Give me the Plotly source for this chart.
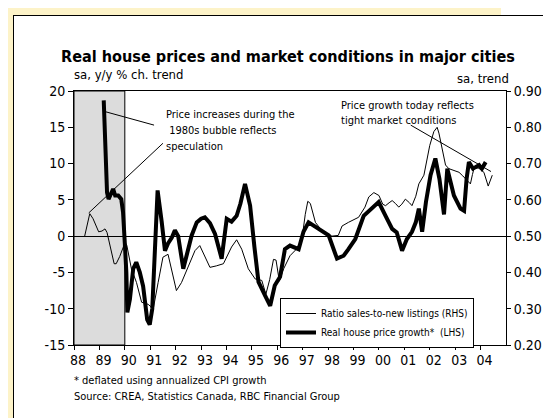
import plotly.graph_objects as go

# ---------------- data ----------------
ratio_dates = [1988.42, 1988.55, 1988.62, 1988.75, 1988.90, 1988.97, 1989.10, 1989.22, 1989.30,
               1989.45, 1989.58, 1989.66, 1989.80, 1989.93, 1990.00, 1990.08, 1990.26, 1990.46,
               1990.66, 1990.92, 1991.12, 1991.31, 1991.50, 1991.70, 1991.90, 1992.03, 1992.23,
               1992.50, 1992.76, 1992.95, 1993.15, 1993.35, 1993.60, 1993.88, 1994.20, 1994.40,
               1994.60, 1994.86, 1995.13, 1995.39, 1995.55, 1995.70, 1995.85, 1995.95, 1996.08,
               1996.25, 1996.50, 1996.75, 1996.97, 1997.10, 1997.20, 1997.30, 1997.50, 1997.70,
               1997.90, 1998.15, 1998.40, 1998.55, 1998.80, 1999.00, 1999.20, 1999.45, 1999.60,
               1999.80, 2000.00, 2000.15, 2000.26, 2000.40, 2000.52, 2000.65, 2000.78, 2000.90,
               2001.04, 2001.20, 2001.30, 2001.45, 2001.57, 2001.77, 2001.90, 2002.00, 2002.16,
               2002.29, 2002.36, 2002.45, 2002.62, 2002.75, 2002.95, 2003.15, 2003.30, 2003.41,
               2003.60, 2003.68, 2003.74, 2003.90, 2004.00, 2004.13, 2004.30, 2004.46]
ratio_values = [0.500, 0.540, 0.562, 0.548, 0.520, 0.512, 0.514, 0.520, 0.510,
                0.460, 0.424, 0.424, 0.444, 0.468, 0.484, 0.474, 0.410, 0.372,
                0.318, 0.312, 0.300, 0.372, 0.442, 0.450, 0.392, 0.350, 0.372,
                0.418, 0.460, 0.474, 0.446, 0.414, 0.418, 0.424, 0.470, 0.490,
                0.464, 0.410, 0.382, 0.378, 0.340, 0.380, 0.436, 0.434, 0.376,
                0.410, 0.446, 0.464, 0.492, 0.560, 0.596, 0.590, 0.538, 0.520,
                0.510, 0.500, 0.502, 0.528, 0.538, 0.544, 0.552, 0.580, 0.608,
                0.620, 0.612, 0.588, 0.584, 0.592, 0.598, 0.590, 0.580, 0.588,
                0.602, 0.592, 0.584, 0.610, 0.644, 0.668, 0.710, 0.750, 0.788,
                0.800, 0.784, 0.750, 0.696, 0.686, 0.680, 0.676, 0.666, 0.658,
                0.644, 0.670, 0.686, 0.688, 0.684, 0.676, 0.638, 0.668]

price_dates = [1989.17, 1989.20, 1989.25, 1989.30, 1989.36, 1989.45, 1989.54, 1989.62, 1989.74,
               1989.86, 1989.93, 1990.00, 1990.06, 1990.10, 1990.20, 1990.33, 1990.45, 1990.59,
               1990.72, 1990.88, 1990.98, 1991.08, 1991.18, 1991.29, 1991.45, 1991.58, 1991.70,
               1991.85, 1991.97, 1992.10, 1992.30, 1992.45, 1992.63, 1992.83, 1993.00, 1993.15,
               1993.35, 1993.55, 1993.81, 1994.01, 1994.20, 1994.40, 1994.55, 1994.73, 1994.93,
               1995.10, 1995.26, 1995.52, 1995.72, 1995.90, 1996.11, 1996.30, 1996.50, 1996.84,
               1997.03, 1997.23, 1997.45, 1997.69, 1998.02, 1998.35, 1998.61, 1998.80, 1999.07,
               1999.40, 1999.70, 1999.99, 2000.26, 2000.52, 2000.70, 2000.91, 2001.10, 2001.30,
               2001.45, 2001.57, 2001.70, 2001.85, 2002.03, 2002.22, 2002.38, 2002.56, 2002.69,
               2002.80, 2002.95, 2003.21, 2003.35, 2003.45, 2003.54, 2003.70, 2003.94, 2004.05,
               2004.20]
price_values = [18.7, 16.0, 10.0, 6.0, 5.1, 5.8, 6.5, 5.6, 5.6,
                5.1, 3.3, -1.0, -5.0, -10.5, -8.7, -4.5, -3.6, -5.0,
                -6.9, -11.5, -12.2, -10.0, -2.0, 6.3, 2.0, -2.0, -1.0,
                -0.2, 0.8, 0.0, -4.5, -2.5, 0.1, 1.9, 2.4, 2.6,
                1.8, 0.3, -3.1, 2.4, 2.0, 2.8, 4.5, 7.2, 4.2,
                -1.5, -6.3, -8.2, -9.6, -6.8, -5.6, -1.8, -1.3, -1.8,
                0.6, 1.9, 1.4, 1.0, 0.1, -3.1, -2.7, -1.8, -0.4,
                2.8, 3.8, 4.7, 2.8, 1.0, 0.5, -2.0, -0.4, 0.6,
                1.9, 3.8, 0.6, 4.7, 8.4, 10.7, 7.9, 3.0, 9.3,
                7.5, 5.6, 3.8, 3.5, 7.9, 10.2, 9.3, 9.8, 9.3,
                10.2]

years = list(range(1988, 2005))
year_labels = ['88', '89', '90', '91', '92', '93', '94', '95', '96', '97', '98', '99',
               '00', '01', '02', '03', '04']
left_ticks = [-15, -10, -5, 0, 5, 10, 15, 20]
right_ticks = [0.20, 0.30, 0.40, 0.50, 0.60, 0.70, 0.80, 0.90]
bubble_period = [1988, 1990]

# ---------------- layout helpers ----------------
W, H = 551, 418
PL, PR, PT, PB = 66, 498, 83, 337


def px(x):
    return (x - PL) / (PR - PL)


def py(y):
    return (PB - y) / (PB - PT)


FONT = "DejaVu Sans Condensed, Liberation Sans, sans-serif"
YELLOW = "#FDF3C8"


def note(text, x, y, size, xanchor="left"):
    return dict(text=text, xref="paper", yref="paper", x=px(x), y=py(y),
                xanchor=xanchor, yanchor="middle", showarrow=False,
                font=dict(size=size, color="black", family=FONT))


fig = go.Figure()
fig.add_trace(go.Scatter(x=ratio_dates, y=ratio_values, yaxis="y2", mode="lines",
                         line=dict(color="black", width=1),
                         name="Ratio sales-to-new listings (RHS)"))
fig.add_trace(go.Scatter(x=price_dates, y=price_values, mode="lines",
                         line=dict(color="black", width=4),
                         name="Real house price growth*\u00a0\u00a0(LHS)"))

shapes = [
    # page decoration
    dict(type="rect", xref="paper", yref="paper", x0=px(0), x1=px(493), y0=py(0), y1=py(7),
         fillcolor=YELLOW, line=dict(width=0), layer="below"),
    dict(type="rect", xref="paper", yref="paper", x0=px(0), x1=px(5), y0=py(0), y1=py(H),
         fillcolor=YELLOW, line=dict(width=0), layer="below"),
    dict(type="line", xref="paper", yref="paper", x0=px(5), x1=px(W), y0=py(7.5), y1=py(7.5),
         line=dict(color="black", width=1)),
    dict(type="line", xref="paper", yref="paper", x0=px(5.5), x1=px(5.5), y0=py(7), y1=py(H),
         line=dict(color="black", width=1)),
    # shaded bubble period
    dict(type="rect", xref="x", yref="y", x0=bubble_period[0], x1=bubble_period[1],
         y0=-15, y1=20, fillcolor="#DCDCDC", line=dict(color="black", width=1), layer="below"),
    # leader lines
    dict(type="line", xref="x", yref="y", x0=1989.18, y0=17.2, x1=1991.15, y1=15.3,
         line=dict(color="black", width=1)),
    dict(type="line", xref="x", yref="y", x0=1988.58, y0=3.2, x1=1991.5, y1=12.8,
         line=dict(color="black", width=1)),
    dict(type="line", xref="x", yref="y", x0=2001.25, y0=15.3, x1=2004.41, y1=8.9,
         line=dict(color="black", width=1)),
]

annotations = [
    note("<b>Real house prices and market conditions in major cities</b>", 280, 48, 16.1,
         xanchor="center"),
    note("sa, y/y % ch. trend", 64, 67, 13),
    note("sa, trend", 503, 70, 13, xanchor="right"),
    note("Price increases during the", 156, 106.7, 11),
    note("\u00a01980s bubble reflects", 156, 122.5, 11),
    note("speculation", 156, 138.3, 11),
    note("Price growth today reflects", 331, 97.3, 11),
    note("tight market conditions", 331, 112.7, 11),
    note("* deflated using annualized CPI growth", 64, 372, 11),
    note("Source: CREA, Statistics Canada, RBC Financial Group", 64, 388, 11),
]

axis_font = dict(size=14, color="black", family=FONT)

fig.update_layout(
    width=W, height=H,
    margin=dict(l=PL, r=W - PR, t=PT, b=H - PB),
    paper_bgcolor="white", plot_bgcolor="white",
    font=dict(family=FONT, color="black"),
    showlegend=True,
    legend=dict(x=px(272), y=py(290), xanchor="left", yanchor="top",
                bordercolor="black", borderwidth=1, bgcolor="white",
                font=dict(size=10, color="black", family=FONT),
                tracegroupgap=0, itemwidth=30),
    xaxis=dict(range=[1988, 2005], tickvals=years, ticktext=year_labels,
               ticks="outside", ticklen=4, tickcolor="black", showline=True,
               linecolor="black", linewidth=1, mirror=True, showgrid=False,
               zeroline=False, tickfont=axis_font, ticklabelshift=4,
               ticklabelstandoff=-2),
    yaxis=dict(range=[-15, 20], tickvals=left_ticks, ticktext=[str(v) for v in left_ticks],
               ticks="outside", ticklen=5, tickcolor="black", showline=True,
               linecolor="black", linewidth=1, mirror=True, showgrid=False,
               zeroline=True, zerolinecolor="black", zerolinewidth=1, tickfont=axis_font),
    yaxis2=dict(range=[0.2, 0.9], tickvals=right_ticks,
                ticktext=["%.2f" % v for v in right_ticks], overlaying="y", side="right",
                ticks="outside", ticklen=4, tickcolor="black", showline=True,
                linecolor="black", linewidth=1, showgrid=False, zeroline=False,
                tickfont=axis_font),
    shapes=shapes,
    annotations=annotations,
)

fig.write_html("out.html")
